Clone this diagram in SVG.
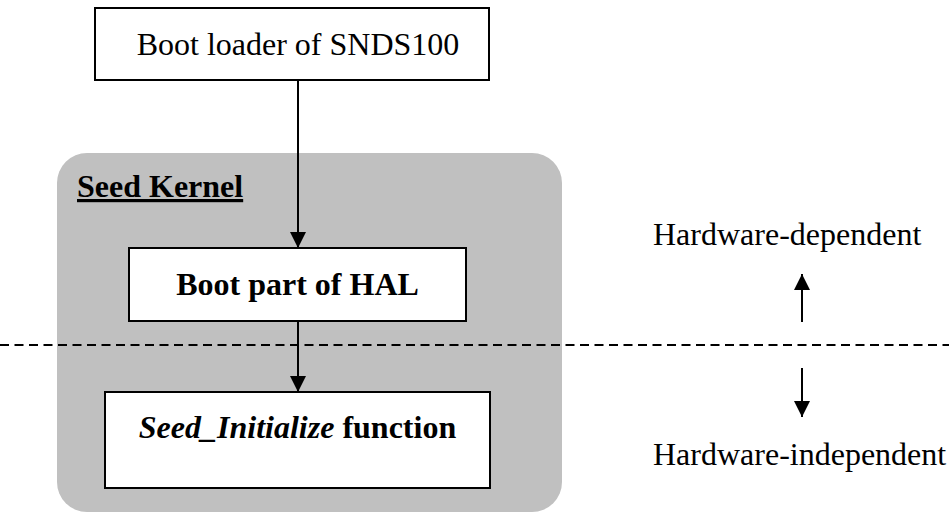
<svg xmlns="http://www.w3.org/2000/svg" width="949" height="512" viewBox="0 0 949 512">
<style>
.t{font-family:"Liberation Serif","Times New Roman",serif;font-size:32px;fill:#000}
.b{font-weight:bold}
.box{fill:#fff;stroke:#000;stroke-width:2}
.ln{stroke:#000;stroke-width:2;fill:none}
</style>
<defs>
<marker id="ah" markerWidth="16" markerHeight="16" viewBox="0 0 16 16" refX="16" refY="8" orient="auto" markerUnits="userSpaceOnUse">
<path d="M0,0 L16,8 L0,16 Z" fill="#000"/>
</marker>
</defs>
<rect width="949" height="512" fill="#fff"/>
<g id="seed-kernel">
<rect x="57" y="153" width="505" height="359" rx="30" ry="30" fill="#c0c0c0"/>
<text class="t b" x="77" y="197" text-decoration="underline">Seed Kernel</text>
</g>
<g id="boot-loader">
<rect class="box" x="95" y="8" width="394" height="72"/>
<text class="t" x="298" y="55" text-anchor="middle">Boot loader of SNDS100</text>
</g>
<g id="boot-hal">
<rect class="box" x="129" y="248" width="337" height="73"/>
<text class="t b" x="297.5" y="295" text-anchor="middle">Boot part of HAL</text>
</g>
<g id="seed-init">
<rect class="box" x="105" y="392" width="385" height="96"/>
<text class="t" x="297.5" y="438" text-anchor="middle"><tspan class="b" font-style="italic">Seed_Initialize</tspan><tspan class="b"> function</tspan></text>
</g>
<g id="hw-dep">
<text class="t" x="653" y="245">Hardware-dependent</text>
</g>
<g id="hw-indep">
<text class="t" x="653" y="465">Hardware-independent</text>
</g>
<g id="connectors">
<line class="ln" x1="298" y1="80" x2="298" y2="248" marker-end="url(#ah)"/>
<line class="ln" x1="298" y1="321" x2="298" y2="392" marker-end="url(#ah)"/>
<line class="ln" x1="0" y1="345" x2="949" y2="345" stroke-dasharray="9 5.5"/>
<line class="ln" x1="802" y1="322" x2="802" y2="274" marker-end="url(#ah)"/>
<line class="ln" x1="802" y1="368" x2="802" y2="417" marker-end="url(#ah)"/>
</g>
</svg>
